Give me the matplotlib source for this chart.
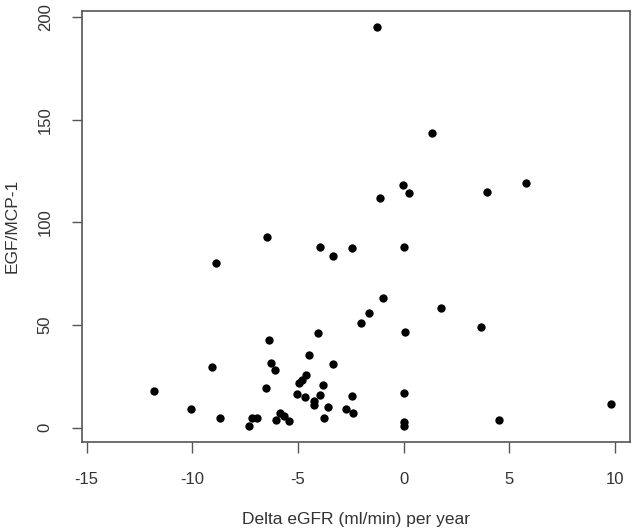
import matplotlib
matplotlib.use("Agg")
import matplotlib.pyplot as plt

# Data

delta_egfr = [
    -1.28, 1.32, -0.02, 0.24, -1.12, 3.94, 5.79, -6.47, -3.94, -2.43,
    0.00, -3.36, -8.86,
    -4.04, -6.39, -4.48, -3.36, -9.05, -6.29, -6.07, -4.62, -4.81, -4.97,
    -3.82, -6.53, -11.83, -5.03, -4.65, -3.96, -4.23, -4.23, -2.46, -3.57,
    -2.73, -2.41, -10.05, -8.71, -7.16, -6.94, -7.32, -6.04, -5.84, -5.68,
    -5.41, -3.78,
    -0.96, -1.63, -2.02, 1.76, 3.64, 0.06, 0.00, 0.00, 0.00, 4.51, 9.79,
]
egf_mcp1 = [
    195.0, 143.5, 118.1, 114.3, 111.9, 114.8, 119.3, 93.0, 88.0, 87.4,
    88.0, 83.8, 80.4,
    46.0, 42.7, 35.4, 31.0, 29.4, 31.4, 27.9, 25.5, 23.4, 21.6,
    21.0, 19.5, 17.7, 16.3, 15.1, 15.8, 13.2, 10.9, 15.3, 9.9,
    9.0, 7.2, 9.0, 4.6, 4.6, 4.6, 0.8, 3.6, 7.0, 5.7,
    3.1, 4.6,
    63.2, 55.7, 50.9, 58.5, 49.2, 46.5, 17.0, 2.6, 1.0, 3.9, 11.5,
]

x_ticks = [-15, -10, -5, 0, 5, 10]
y_ticks = [0, 50, 100, 150, 200]

plt.rcParams['font.family'] = ['Liberation Sans', 'DejaVu Sans']

fig = plt.figure(figsize=(6.34, 5.29), dpi=100)
ax = fig.add_axes([82 / 634, 1 - 441.7 / 529, 548 / 634, 430.7 / 529])

ax.scatter(delta_egfr, egf_mcp1, s=36, c='black', linewidths=0, zorder=3)

ax.set_xlim(-15.22, 10.71)
ax.set_ylim(-6.82, 203.0)
ax.set_xticks(x_ticks)
ax.set_yticks(y_ticks)
ax.set_xticklabels([str(v) for v in x_ticks])
ax.set_yticklabels([str(v) for v in y_ticks], rotation=90, va='center')

for sp in ax.spines.values():
    sp.set_color('#555555')
    sp.set_linewidth(1.2)

ax.tick_params(axis='x', length=8, width=1.0, color='#555555',
               labelsize=12, labelcolor='#333333', pad=14)
ax.tick_params(axis='y', length=7, width=1.0, color='#555555',
               labelsize=12, labelcolor='#333333', pad=14)

ax.set_xlabel('Delta eGFR (ml/min) per year', fontsize=12.5,
              color='#333333', labelpad=18)
ax.set_ylabel('EGF/MCP-1', fontsize=12.5, color='#333333', labelpad=13)

fig.savefig('out.png', dpi=100)
